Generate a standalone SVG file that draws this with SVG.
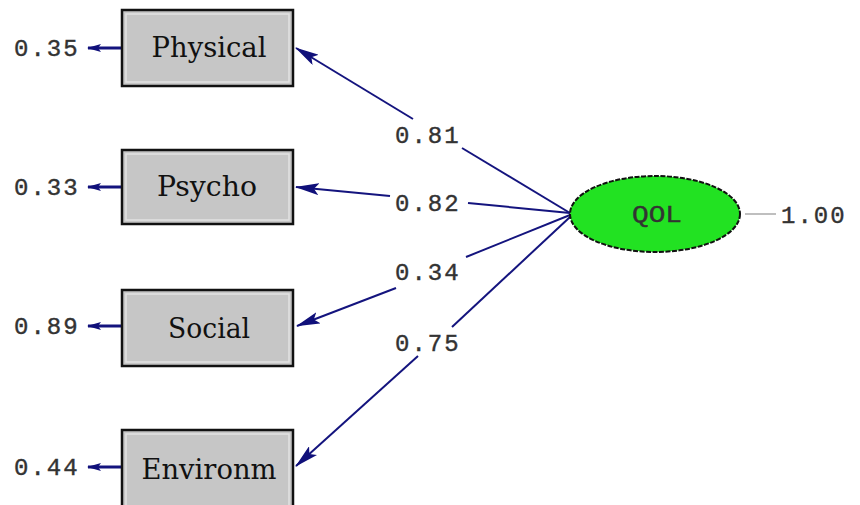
<svg xmlns="http://www.w3.org/2000/svg" width="860" height="505" viewBox="0 0 860 505">
<defs>
<marker id="ah" viewBox="0 0 24 12" refX="23" refY="6" markerWidth="24" markerHeight="12" markerUnits="userSpaceOnUse" orient="auto">
<path d="M24,6 L0,0 L5,6 L0,12 Z" fill="#10107a"/>
</marker>
<marker id="ahs" viewBox="0 0 14 8" refX="13" refY="4" markerWidth="14" markerHeight="8" markerUnits="userSpaceOnUse" orient="auto">
<path d="M14,4 L0,0 L3,4 L0,8 Z" fill="#10107a"/>
</marker>
<style>
.box{fill:#c6c6c6;stroke:#111;stroke-width:2.5}
.inner{fill:none;stroke:#e2e2e2;stroke-width:1.5}
.lbl{font-family:"DejaVu Serif","Liberation Serif",serif;font-size:28px;fill:#111;text-anchor:middle}
.num{font-family:"Liberation Mono","Courier New",monospace;font-size:24px;fill:#333;letter-spacing:2px;stroke:#333;stroke-width:0.4}
.ln{stroke:#14147e;stroke-width:2;fill:none}
.lns{stroke:#14147e;stroke-width:3;fill:none}
</style>
</defs>
<rect width="860" height="505" fill="#fff"/>
<g id="connectors">
<line class="ln" x1="413" y1="119" x2="296" y2="48" marker-end="url(#ah)"/>
<line class="ln" x1="570" y1="213" x2="462" y2="148"/>
<line class="ln" x1="390" y1="196" x2="296" y2="187" marker-end="url(#ah)"/>
<line class="ln" x1="570" y1="213" x2="468" y2="203"/>
<line class="ln" x1="396" y1="288" x2="297" y2="326" marker-end="url(#ah)"/>
<line class="ln" x1="570" y1="215" x2="466" y2="257"/>
<line class="ln" x1="418" y1="356" x2="296" y2="466" marker-end="url(#ah)"/>
<line class="ln" x1="570" y1="217" x2="452" y2="327"/>
<line class="lns" x1="121" y1="48" x2="88" y2="48" marker-end="url(#ahs)"/>
<line class="lns" x1="121" y1="187" x2="88" y2="187" marker-end="url(#ahs)"/>
<line class="lns" x1="121" y1="326" x2="88" y2="326" marker-end="url(#ahs)"/>
<line class="lns" x1="121" y1="467" x2="88" y2="467" marker-end="url(#ahs)"/>
<line x1="745" y1="214" x2="776" y2="214" stroke="#aaa" stroke-width="1.5"/>
<text class="num" x="395" y="143">0.81</text>
<text class="num" x="395" y="211">0.82</text>
<text class="num" x="395" y="280">0.34</text>
<text class="num" x="395" y="351">0.75</text>
</g>
<g id="physical">
<rect class="box" x="122" y="10" width="171" height="76"/>
<rect class="inner" x="126" y="14" width="163" height="68"/>
<text class="lbl" x="209" y="57" textLength="115" lengthAdjust="spacingAndGlyphs">Physical</text>
<text class="num" x="14" y="56">0.35</text>
</g>
<g id="psycho">
<rect class="box" x="122" y="150" width="171" height="74"/>
<rect class="inner" x="126" y="154" width="163" height="66"/>
<text class="lbl" x="207" y="196" textLength="100" lengthAdjust="spacingAndGlyphs">Psycho</text>
<text class="num" x="14" y="195">0.33</text>
</g>
<g id="social">
<rect class="box" x="122" y="290" width="171" height="76"/>
<rect class="inner" x="126" y="294" width="163" height="68"/>
<text class="lbl" x="209" y="338" textLength="82" lengthAdjust="spacingAndGlyphs">Social</text>
<text class="num" x="14" y="334">0.89</text>
</g>
<g id="environm">
<rect class="box" x="122" y="430" width="171" height="80"/>
<rect class="inner" x="126" y="434" width="163" height="72"/>
<text class="lbl" x="209" y="479" textLength="135" lengthAdjust="spacingAndGlyphs">Environm</text>
<text class="num" x="14" y="475">0.44</text>
</g>
<g id="qol">
<ellipse cx="655" cy="214" rx="85" ry="38" fill="#22e222" stroke="#111" stroke-width="2" stroke-dasharray="5 1.5"/>
<text class="num" x="657" y="222" text-anchor="middle" textLength="50" lengthAdjust="spacingAndGlyphs" style="font-size:24px;letter-spacing:0px" fill="#222">QOL</text>
<text class="num" x="781" y="223">1.00</text>
</g>
</svg>
